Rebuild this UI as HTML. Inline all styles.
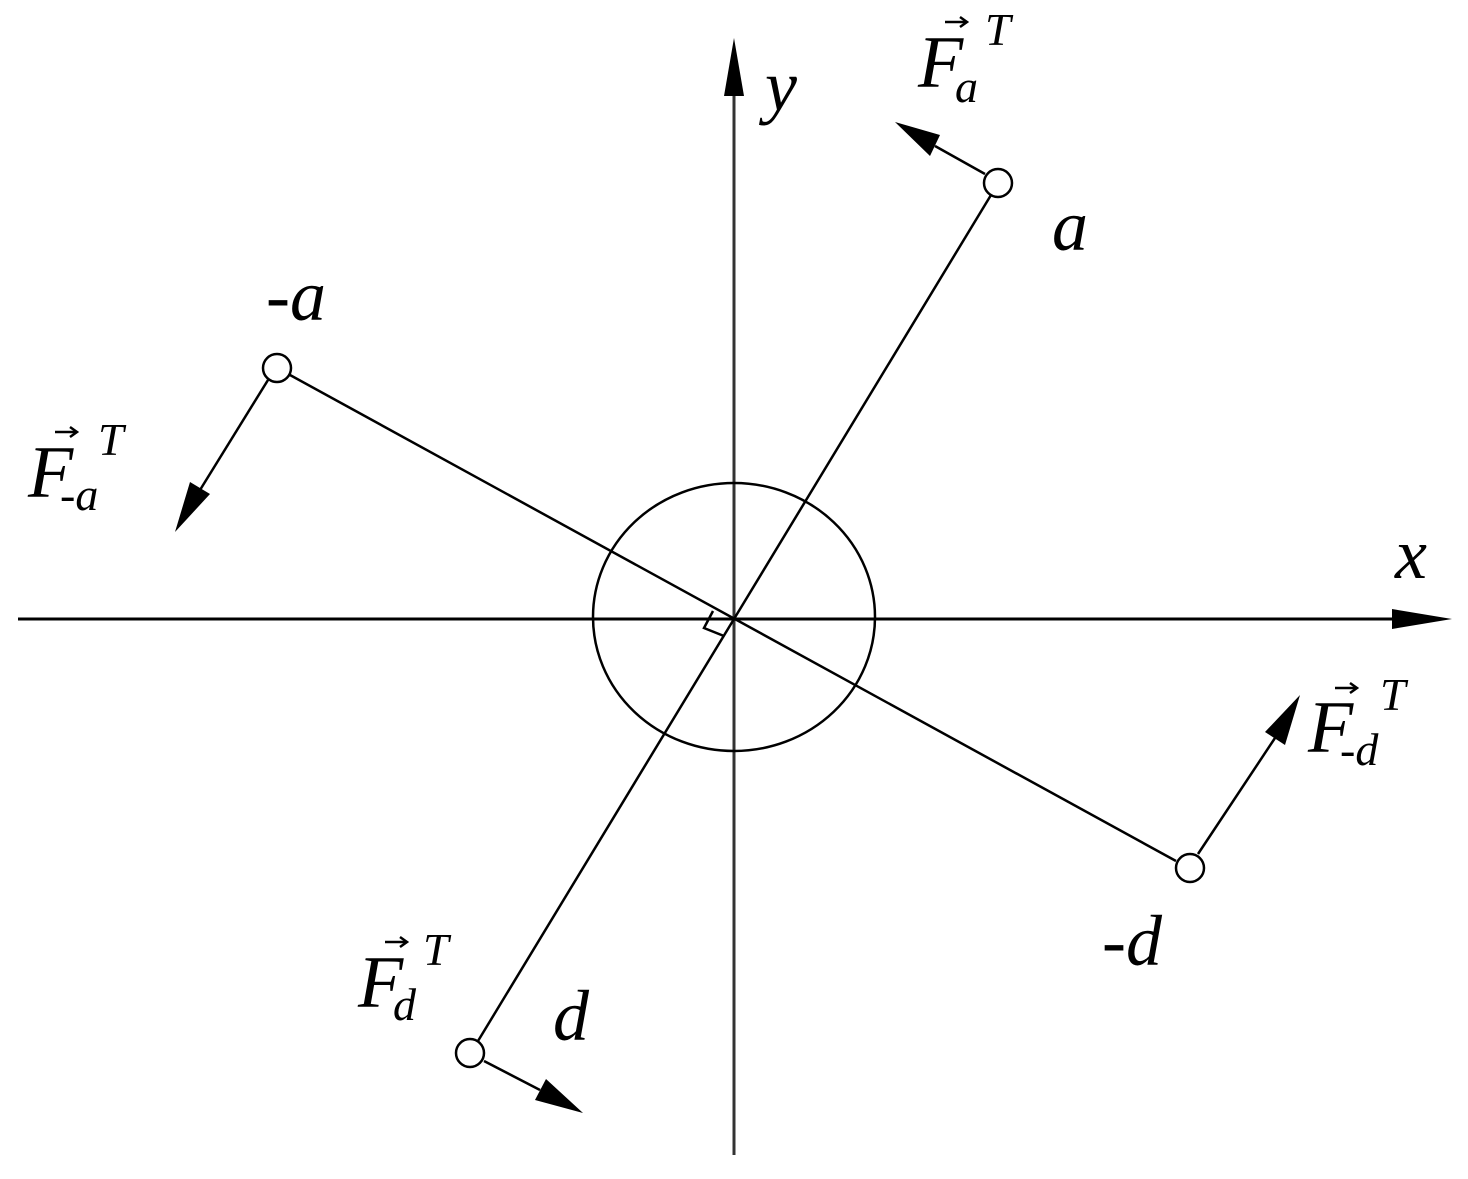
<!DOCTYPE html>
<html><head><style>html,body{margin:0;padding:0;background:#fff;}</style></head>
<body>
<svg width="1468" height="1174" viewBox="0 0 1468 1174" xmlns="http://www.w3.org/2000/svg" font-family="Liberation Serif, serif" font-style="italic">
<g stroke="#000" fill="none" stroke-width="3">
<line x1="734" y1="60" x2="734" y2="1155" stroke="#333"/>
<line x1="18" y1="619" x2="1400" y2="619"/>
<ellipse cx="734" cy="617" rx="141" ry="134" stroke-width="2.5"/>
<line x1="734" y1="619" x2="991" y2="195" stroke-width="2.5"/>
<line x1="734" y1="619" x2="478" y2="1041" stroke-width="2.5"/>
<line x1="290" y1="375" x2="1176" y2="861" stroke-width="2.5"/>
<polyline points="713,611 704,628 724,636" stroke-width="2.5"/>
<circle cx="998" cy="183" r="14" stroke-width="2.5"/>
<circle cx="277" cy="368" r="14" stroke-width="2.5"/>
<circle cx="1190" cy="868" r="14" stroke-width="2.5"/>
<circle cx="470" cy="1053" r="14" stroke-width="2.5"/>
<line x1="985" y1="174" x2="935" y2="146" stroke-width="2.5"/>
<line x1="268" y1="380" x2="200" y2="490" stroke-width="2.5"/>
<line x1="1198" y1="854" x2="1275" y2="738" stroke-width="2.5"/>
<line x1="484" y1="1061" x2="540" y2="1090" stroke-width="2.5"/>
</g>
<g fill="#000">
<polygon points="734,38 724,96 744,96"/>
<polygon points="1452,619 1392,609 1392,629"/>
<polygon points="895,122 940,135 930,156"/>
<polygon points="175,532 190,482 210,494"/>
<polygon points="1300,695 1285,745 1265,732"/>
<polygon points="583,1113 535,1100 546,1079"/>
</g>
<g font-size="72" fill="#000">
<text x="765" y="110">y</text>
<text x="1395" y="578">x</text>
<text x="1052" y="250">a</text>
<text x="266" y="320">-a</text>
<text x="1102" y="965">-d</text>
<text x="553" y="1040">d</text>
</g>
<g fill="#000" font-size="74">
<text x="918" y="87">F</text><text x="955" y="102" font-size="46">a</text><text x="985" y="45" font-size="46">T</text>
<text x="28" y="497">F</text><text x="60" y="510" font-size="46">-a</text><text x="98" y="455" font-size="46">T</text>
<text x="1308" y="752">F</text><text x="1340" y="765" font-size="46">-d</text><text x="1380" y="710" font-size="46">T</text>
<text x="358" y="1007">F</text><text x="393" y="1020" font-size="46">d</text><text x="423" y="965" font-size="46">T</text>
</g>
<g stroke="#000" stroke-width="2.5" fill="none">
<line x1="945" y1="22" x2="965" y2="22"/><polyline points="960,17 967,22 960,27"/>
<line x1="55" y1="432" x2="75" y2="432"/><polyline points="70,427 77,432 70,437"/>
<line x1="1335" y1="688" x2="1355" y2="688"/><polyline points="1350,683 1357,688 1350,693"/>
<line x1="385" y1="942" x2="405" y2="942"/><polyline points="400,937 407,942 400,947"/>
</g>
</svg>
</body></html>
